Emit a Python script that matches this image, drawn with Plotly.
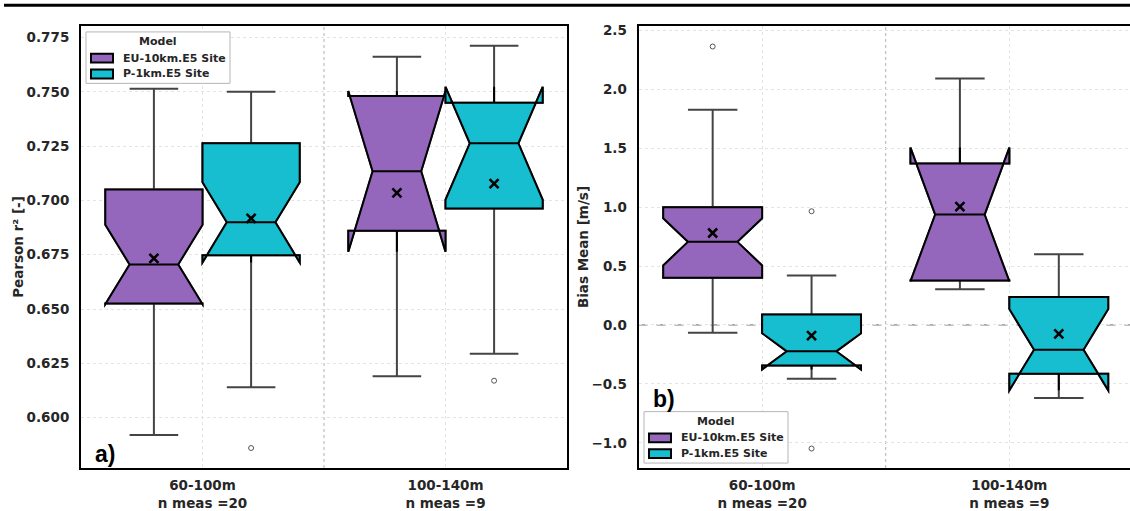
import plotly.graph_objects as go
from plotly.subplots import make_subplots

# ---------------- data ----------------
categories = ["60-100m<br>n meas =20", "100-140m<br>n meas =9"]
models = ["EU-10km.E5 Site", "P-1km.E5 Site"]
colors = ["#9467bd", "#17becf"]

# Pearson r^2 (panel a)
eu_r2_lowf = [0.592, 0.619]
eu_r2_q1 = [0.6525, 0.686]
eu_r2_med = [0.6705, 0.7134]
eu_r2_q3 = [0.705, 0.7481]
eu_r2_upf = [0.7514, 0.7661]
eu_r2_notch = [0.0183, 0.037]
eu_r2_mean = [0.6733, 0.7035]
eu_r2_out = [[], []]

p_r2_lowf = [0.614, 0.6294]
p_r2_q1 = [0.6747, 0.6963]
p_r2_med = [0.6899, 0.7263]
p_r2_q3 = [0.7263, 0.745]
p_r2_upf = [0.750, 0.7712]
p_r2_notch = [0.0185, 0.026]
p_r2_mean = [0.6917, 0.7077]
p_r2_out = [[0.586], [0.617]]

# Bias mean (panel b)
eu_b_lowf = [-0.067, 0.302]
eu_b_q1 = [0.40, 0.378]
eu_b_med = [0.705, 0.937]
eu_b_q3 = [0.999, 1.371]
eu_b_upf = [1.826, 2.092]
eu_b_notch = [0.2, 0.568]
eu_b_mean = [0.780, 1.004]
eu_b_out = [[2.363], []]

p_b_lowf = [-0.457, -0.621]
p_b_q1 = [-0.344, -0.415]
p_b_med = [-0.224, -0.21]
p_b_q3 = [0.089, 0.2375]
p_b_upf = [0.42, 0.601]
p_b_notch = [0.154, 0.345]
p_b_mean = [-0.09, -0.076]
p_b_out = [[0.965, -1.049], []]

r2_ticks = [0.600, 0.625, 0.650, 0.675, 0.700, 0.725, 0.750, 0.775]
bias_ticks = [-1.0, -0.5, 0.0, 0.5, 1.0, 1.5, 2.0, 2.5]

panels = [
    [
        dict(lowf=eu_r2_lowf, q1=eu_r2_q1, med=eu_r2_med, q3=eu_r2_q3, upf=eu_r2_upf,
             notch=eu_r2_notch, mean=eu_r2_mean, out=eu_r2_out),
        dict(lowf=p_r2_lowf, q1=p_r2_q1, med=p_r2_med, q3=p_r2_q3, upf=p_r2_upf,
             notch=p_r2_notch, mean=p_r2_mean, out=p_r2_out),
    ],
    [
        dict(lowf=eu_b_lowf, q1=eu_b_q1, med=eu_b_med, q3=eu_b_q3, upf=eu_b_upf,
             notch=eu_b_notch, mean=eu_b_mean, out=eu_b_out),
        dict(lowf=p_b_lowf, q1=p_b_q1, med=p_b_med, q3=p_b_q3, upf=p_b_upf,
             notch=p_b_notch, mean=p_b_mean, out=p_b_out),
    ],
]

# ---------------- figure ----------------
W, H = 1130, 511
mt, mb = 26, 38
PH = H - mt - mb
fig = make_subplots(rows=1, cols=2)


def px_x(px):
    return px / W


def px_y(py):
    return (H - mb - py) / PH


offsets = [-0.2, 0.2]
box_w = 0.4
FONT = "DejaVu Sans"

for p, series in enumerate(panels):
    col = p + 1
    # whiskers (gray) first
    for m, s in enumerate(series):
        xs = [i + offsets[m] for i in range(len(categories))]
        fig.add_trace(go.Box(
            x=xs, q1=s["q1"], median=s["med"], q3=s["q3"],
            lowerfence=s["lowf"], upperfence=s["upf"], notchspan=s["notch"],
            notched=True, notchwidth=0.25, width=box_w, whiskerwidth=0.5,
            fillcolor=colors[m], line=dict(color="#444444", width=2),
            boxpoints=False, showlegend=False, hoverinfo="skip",
        ), row=1, col=col)
    # box bodies (black outline)
    for m, s in enumerate(series):
        xs = [i + offsets[m] for i in range(len(categories))]
        fig.add_trace(go.Box(
            x=xs, q1=s["q1"], median=s["med"], q3=s["q3"],
            lowerfence=s["q1"], upperfence=s["q3"], notchspan=s["notch"],
            notched=True, notchwidth=0.25, width=box_w, whiskerwidth=0,
            fillcolor=colors[m], line=dict(color="black", width=2),
            boxpoints=False, name=models[m], showlegend=False,
        ), row=1, col=col)
    # means
    for m, s in enumerate(series):
        xs = [i + offsets[m] for i in range(len(categories))]
        fig.add_trace(go.Scatter(
            x=xs, y=s["mean"], mode="markers", showlegend=False,
            marker=dict(symbol="x-thin", size=9, line=dict(color="black", width=2.6)),
        ), row=1, col=col)
    # outliers
    for m, s in enumerate(series):
        ox, oy = [], []
        for i, vals in enumerate(s["out"]):
            for v in vals:
                ox.append(i + offsets[m])
                oy.append(v)
        if ox:
            fig.add_trace(go.Scatter(
                x=ox, y=oy, mode="markers", showlegend=False,
                marker=dict(symbol="circle-open", size=5, color="#555555",
                            line=dict(color="#555555", width=1)),
            ), row=1, col=col)

tickfont = dict(family=FONT, size=13.5, color="#262626", weight="bold")
common_x = dict(
    tickvals=[0, 1], ticktext=categories, tickfont=tickfont,
    showgrid=True, gridcolor="#e4e4e4", griddash="dot", gridwidth=1,
    showline=True, linecolor="black", linewidth=2, mirror=True,
    ticks="", zeroline=False, ticklabelstandoff=4,
)
fig.update_xaxes(**common_x)
fig.update_xaxes(domain=[81 / W, 567 / W], range=[-0.5, 1.5], row=1, col=1)
fig.update_xaxes(domain=[638.5 / W, 1.0], range=[-0.5, 1.488], row=1, col=2)

common_y = dict(
    tickfont=tickfont, showgrid=True, gridcolor="#e4e4e4", griddash="dot", gridwidth=1,
    showline=True, linecolor="black", linewidth=2, ticks="", zeroline=False,
    ticklabelstandoff=7,
)
title_font = dict(family=FONT, size=13.5, color="#262626", weight="bold")
fig.update_yaxes(**common_y)
fig.update_yaxes(range=[0.5768, 0.7803], tickvals=r2_ticks, tickformat=".3f", mirror=True,
                 title=dict(text="Pearson r² [-]", standoff=0, font=title_font),
                 row=1, col=1)
fig.update_yaxes(range=[-1.214, 2.537], tickvals=bias_ticks, tickformat=".1f", mirror=False,
                 title=dict(text="Bias Mean [m/s]", standoff=0, font=title_font),
                 row=1, col=2)

# separators between groups
for xr, yr in (("x", "y domain"), ("x2", "y2 domain")):
    fig.add_shape(type="line", xref=xr, yref=yr, x0=0.5, x1=0.5, y0=0, y1=1,
                  line=dict(color="#b0b0b0", width=1, dash="dot"), layer="below")
# zero line in bias panel
fig.add_shape(type="line", xref="x2 domain", yref="y2", x0=0, x1=1, y0=0, y1=0,
              line=dict(color="#666666", width=1, dash="dash"), layer="below")
# top rule
fig.add_shape(type="line", xref="paper", yref="paper", x0=px_x(4), x1=1.0,
              y0=px_y(5), y1=px_y(5), line=dict(color="black", width=3))

# panel labels
fig.add_annotation(text="<b>a)</b>", xref="x", yref="y domain", x=-0.45, y=-0.002,
                   xanchor="left", yanchor="bottom", showarrow=False,
                   font=dict(family="Liberation Sans", size=23, color="black"))
fig.add_annotation(text="<b>b)</b>", xref="x2", yref="y2 domain", x=-0.45, y=0.123,
                   xanchor="left", yanchor="bottom", showarrow=False,
                   font=dict(family="Liberation Sans", size=23, color="black"))

# legends (one per panel), drawn in pixel-anchored paper coordinates
legend_font = dict(family=FONT, size=11, color="#262626", weight="bold")
for (lx, ly) in ((86, 32), (644, 416)):
    fig.add_shape(type="rect", xref="paper", yref="paper",
                  x0=px_x(lx), x1=px_x(lx + 144), y0=px_y(ly), y1=px_y(ly + 52),
                  line=dict(color="#b5b5b5", width=1), fillcolor="white", layer="above")
    fig.add_annotation(text="Model", xref="paper", yref="paper",
                       x=px_x(lx + 72), y=px_y(ly + 10), xanchor="center", yanchor="middle",
                       showarrow=False, font=legend_font)
    for m, name in enumerate(models):
        cy = ly + 26.5 + 16 * m
        fig.add_shape(type="rect", xref="paper", yref="paper",
                      x0=px_x(lx + 5), x1=px_x(lx + 27), y0=px_y(cy - 4.5), y1=px_y(cy + 4.5),
                      line=dict(color="black", width=2), fillcolor=colors[m], layer="above")
        fig.add_annotation(text=name, xref="paper", yref="paper",
                           x=px_x(lx + 35), y=px_y(cy), xanchor="left", yanchor="middle",
                           showarrow=False, font=legend_font)

fig.update_layout(
    width=W, height=H,
    margin=dict(l=0, r=0, t=mt, b=mb),
    paper_bgcolor="white", plot_bgcolor="white",
    boxmode="overlay", showlegend=False,
)

fig.write_html("out.html", config={"displayModeBar": False},
               post_script="document.body.style.margin='0';document.body.style.overflow='hidden';")
